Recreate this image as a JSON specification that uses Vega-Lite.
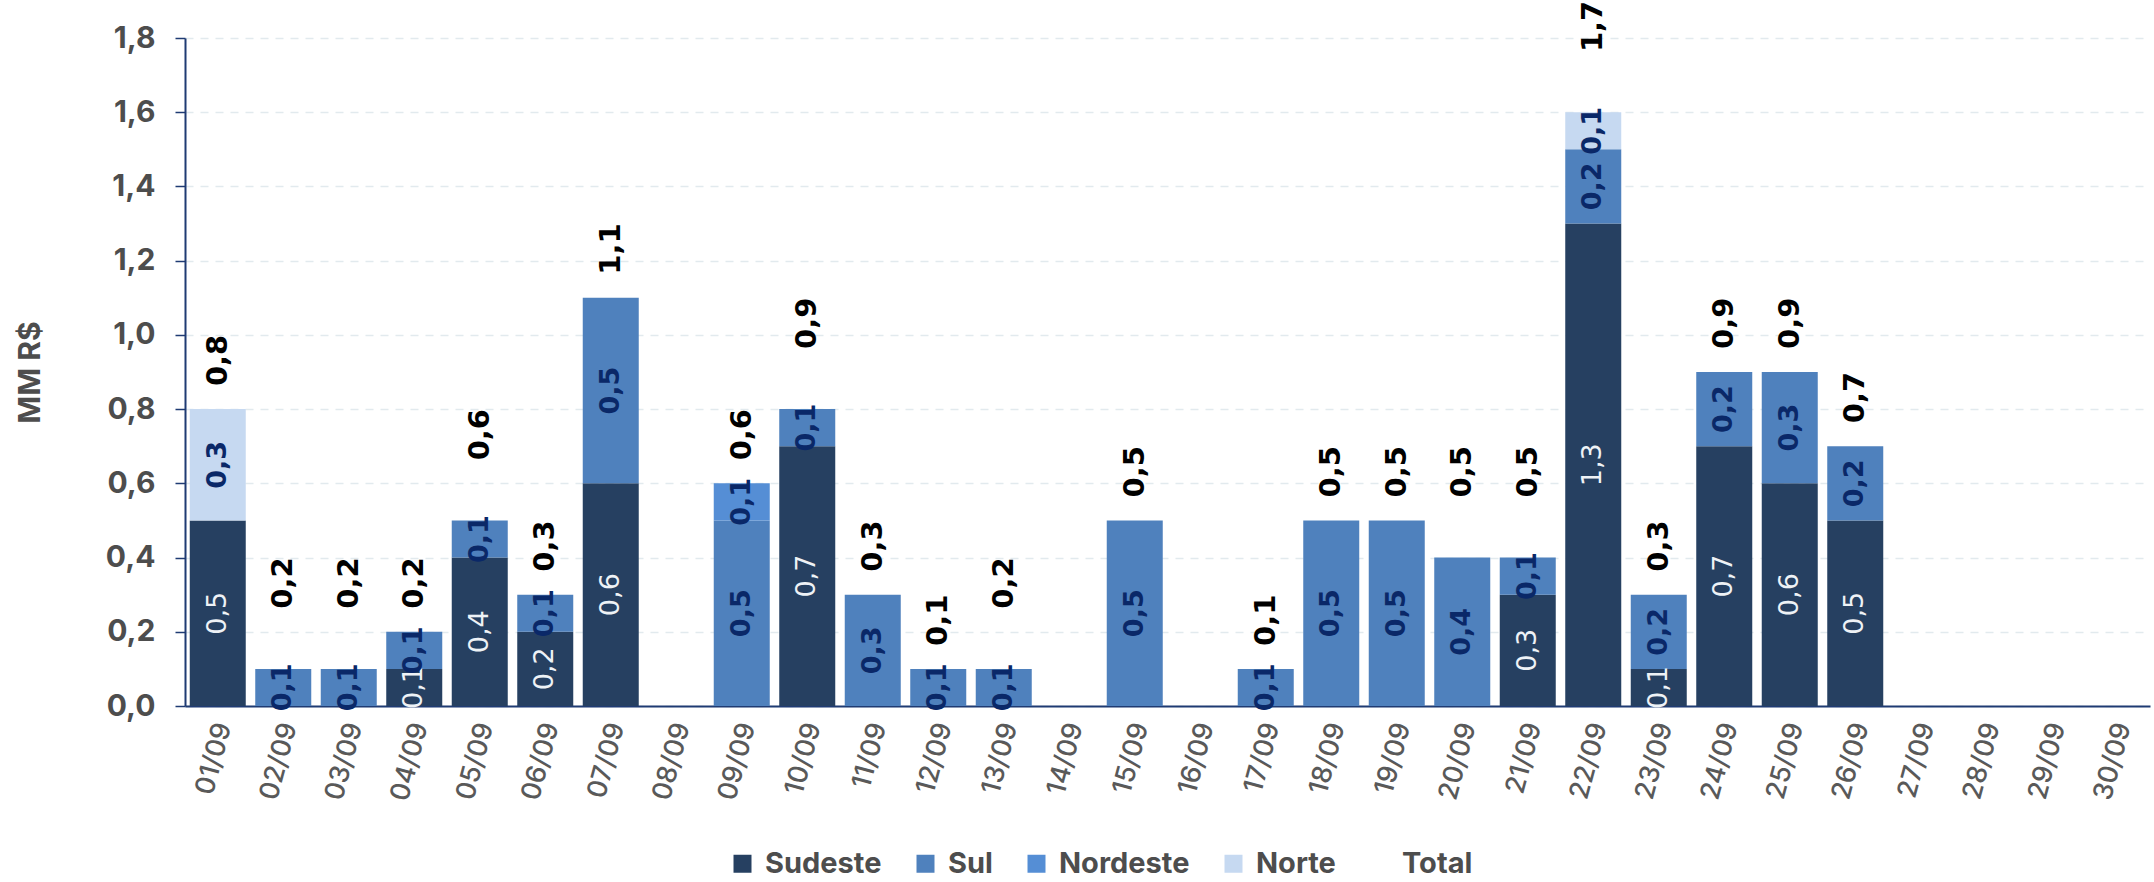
{
  "$schema": "https://vega.github.io/schema/vega-lite/v6.json",
  "width": 1965,
  "height": 668,
  "autosize": {"type": "none"},
  "padding": {"left": 185, "top": 38, "right": 4, "bottom": 176},
  "background": "#ffffff",
  "config": {
    "view": {"stroke": null},
    "locale": {"number": {"decimal": ",", "thousands": ".", "grouping": [3], "currency": ["R$ ", ""]}}
  },
  "datasets": {
    "segs": [
      {"date": "01/09", "region": "Sudeste", "ord": 1, "value": 0.5},
      {"date": "01/09", "region": "Norte", "ord": 4, "value": 0.3},
      {"date": "02/09", "region": "Sul", "ord": 2, "value": 0.1},
      {"date": "03/09", "region": "Sul", "ord": 2, "value": 0.1},
      {"date": "04/09", "region": "Sudeste", "ord": 1, "value": 0.1},
      {"date": "04/09", "region": "Sul", "ord": 2, "value": 0.1},
      {"date": "05/09", "region": "Sudeste", "ord": 1, "value": 0.4},
      {"date": "05/09", "region": "Sul", "ord": 2, "value": 0.1},
      {"date": "06/09", "region": "Sudeste", "ord": 1, "value": 0.2},
      {"date": "06/09", "region": "Sul", "ord": 2, "value": 0.1},
      {"date": "07/09", "region": "Sudeste", "ord": 1, "value": 0.6},
      {"date": "07/09", "region": "Sul", "ord": 2, "value": 0.5},
      {"date": "09/09", "region": "Sul", "ord": 2, "value": 0.5},
      {"date": "09/09", "region": "Nordeste", "ord": 3, "value": 0.1},
      {"date": "10/09", "region": "Sudeste", "ord": 1, "value": 0.7},
      {"date": "10/09", "region": "Sul", "ord": 2, "value": 0.1},
      {"date": "11/09", "region": "Sul", "ord": 2, "value": 0.3},
      {"date": "12/09", "region": "Sul", "ord": 2, "value": 0.1},
      {"date": "13/09", "region": "Sul", "ord": 2, "value": 0.1},
      {"date": "15/09", "region": "Sul", "ord": 2, "value": 0.5},
      {"date": "17/09", "region": "Sul", "ord": 2, "value": 0.1},
      {"date": "18/09", "region": "Sul", "ord": 2, "value": 0.5},
      {"date": "19/09", "region": "Sul", "ord": 2, "value": 0.5},
      {"date": "20/09", "region": "Sul", "ord": 2, "value": 0.4},
      {"date": "21/09", "region": "Sudeste", "ord": 1, "value": 0.3},
      {"date": "21/09", "region": "Sul", "ord": 2, "value": 0.1},
      {"date": "22/09", "region": "Sudeste", "ord": 1, "value": 1.3},
      {"date": "22/09", "region": "Sul", "ord": 2, "value": 0.2},
      {"date": "22/09", "region": "Norte", "ord": 4, "value": 0.1},
      {"date": "23/09", "region": "Sudeste", "ord": 1, "value": 0.1},
      {"date": "23/09", "region": "Sul", "ord": 2, "value": 0.2},
      {"date": "24/09", "region": "Sudeste", "ord": 1, "value": 0.7},
      {"date": "24/09", "region": "Sul", "ord": 2, "value": 0.2},
      {"date": "25/09", "region": "Sudeste", "ord": 1, "value": 0.6},
      {"date": "25/09", "region": "Sul", "ord": 2, "value": 0.3},
      {"date": "26/09", "region": "Sudeste", "ord": 1, "value": 0.5},
      {"date": "26/09", "region": "Sul", "ord": 2, "value": 0.2}
    ],
    "totals": [
      {"date": "01/09", "total": 0.8},
      {"date": "02/09", "total": 0.2},
      {"date": "03/09", "total": 0.2},
      {"date": "04/09", "total": 0.2},
      {"date": "05/09", "total": 0.6},
      {"date": "06/09", "total": 0.3},
      {"date": "07/09", "total": 1.1},
      {"date": "09/09", "total": 0.6},
      {"date": "10/09", "total": 0.9},
      {"date": "11/09", "total": 0.3},
      {"date": "12/09", "total": 0.1},
      {"date": "13/09", "total": 0.2},
      {"date": "15/09", "total": 0.5},
      {"date": "17/09", "total": 0.1},
      {"date": "18/09", "total": 0.5},
      {"date": "19/09", "total": 0.5},
      {"date": "20/09", "total": 0.5},
      {"date": "21/09", "total": 0.5},
      {"date": "22/09", "total": 1.7},
      {"date": "23/09", "total": 0.3},
      {"date": "24/09", "total": 0.9},
      {"date": "25/09", "total": 0.9},
      {"date": "26/09", "total": 0.7}
    ]
  },
  "encoding": {
    "x": {
      "field": "date",
      "type": "ordinal",
      "scale": {
        "domain": ["01/09","02/09","03/09","04/09","05/09","06/09","07/09","08/09","09/09","10/09","11/09","12/09","13/09","14/09","15/09","16/09","17/09","18/09","19/09","20/09","21/09","22/09","23/09","24/09","25/09","26/09","27/09","28/09","29/09","30/09"],
        "paddingInner": 0.145,
        "paddingOuter": 0.0725
      },
      "axis": {
        "title": null,
        "labelAngle": -75,
        "labelAlign": "right",
        "labelBaseline": "middle",
        "labelFont": "Inter",
        "labelFontSize": 27,
        "labelFontWeight": 500,
        "labelColor": "#595959",
        "labelPadding": 17,
        "labelOffset": 6,
        "ticks": false,
        "domainColor": "#1F3B73",
        "domainWidth": 2,
        "grid": false
      }
    }
  },
  "layer": [
    {
      "data": {"name": "segs"},
      "transform": [
        {"stack": "value", "groupby": ["date"], "sort": [{"field": "ord"}], "as": ["v0", "v1"]}
      ],
      "mark": {"type": "bar"},
      "encoding": {
        "y": {
          "field": "v0",
          "type": "quantitative",
          "scale": {"domain": [0, 1.8], "nice": false, "zero": true},
          "axis": {
            "title": "MM R$",
            "titleFont": "Inter",
            "titleFontSize": 30,
            "titleFontWeight": "bold",
            "titleColor": "#4D4D4D",
            "titleX": -155,
            "titleY": 334,
            "titleBaseline": "middle",
            "titleAlign": "center",
            "values": [0, 0.2, 0.4, 0.6, 0.8, 1.0, 1.2, 1.4, 1.6, 1.8],
            "format": ".1f",
            "labelFont": "Inter",
            "labelFontSize": 30,
            "labelFontWeight": "bold",
            "labelColor": "#4D4D4D",
            "labelPadding": 20,
            "tickSize": 10,
            "tickColor": "#1F3B73",
            "tickWidth": 1.5,
            "domainColor": "#1F3B73",
            "domainWidth": 2,
            "grid": true,
            "gridColor": "#E2EAEE",
            "gridDash": [8, 7],
            "gridWidth": 1.5
          }
        },
        "y2": {"field": "v1"},
        "color": {
          "field": "region",
          "type": "nominal",
          "scale": {
            "domain": ["Sudeste", "Sul", "Nordeste", "Norte", "Total"],
            "range": ["#264061", "#4F81BD", "#558ED5", "#C6D9F1", "#ffffff"]
          },
          "legend": {
            "orient": "none",
            "legendX": 543,
            "legendY": 811,
            "direction": "horizontal",
            "title": null,
            "symbolType": "square",
            "symbolSize": 324,
            "symbolStrokeWidth": 0,
            "labelFont": "Inter",
            "labelFontWeight": "bold",
            "labelFontSize": 29,
            "labelColor": "#4D4D4D",
            "labelOffset": 8,
            "columnPadding": 29
          }
        }
      }
    },
    {
      "data": {"name": "segs"},
      "transform": [
        {"stack": "value", "groupby": ["date"], "sort": [{"field": "ord"}], "as": ["v0", "v1"]},
        {"calculate": "(datum.v0 + datum.v1) / 2", "as": "mid"},
        {"filter": "datum.region === 'Sudeste'"}
      ],
      "mark": {"type": "text", "angle": 270, "align": "center", "baseline": "middle", "font": "DejaVu Sans", "fontSize": 27, "fontWeight": "normal", "color": "#EEF2F6"},
      "encoding": {
        "y": {"field": "mid", "type": "quantitative"},
        "text": {"field": "value", "type": "quantitative", "format": ".1f"}
      }
    },
    {
      "data": {"name": "segs"},
      "transform": [
        {"stack": "value", "groupby": ["date"], "sort": [{"field": "ord"}], "as": ["v0", "v1"]},
        {"calculate": "(datum.v0 + datum.v1) / 2", "as": "mid"},
        {"filter": "datum.region !== 'Sudeste'"}
      ],
      "mark": {"type": "text", "angle": 270, "align": "center", "baseline": "middle", "font": "DejaVu Sans", "fontSize": 27, "fontWeight": "bold", "color": "#0A2868"},
      "encoding": {
        "y": {"field": "mid", "type": "quantitative"},
        "text": {"field": "value", "type": "quantitative", "format": ".1f"}
      }
    },
    {
      "data": {"name": "totals"},
      "mark": {"type": "text", "angle": 270, "align": "left", "baseline": "middle", "font": "DejaVu Sans", "fontSize": 29, "fontWeight": "bold", "color": "#000000", "dx": 23},
      "encoding": {
        "y": {"field": "total", "type": "quantitative"},
        "text": {"field": "total", "type": "quantitative", "format": ".1f"}
      }
    }
  ]
}
